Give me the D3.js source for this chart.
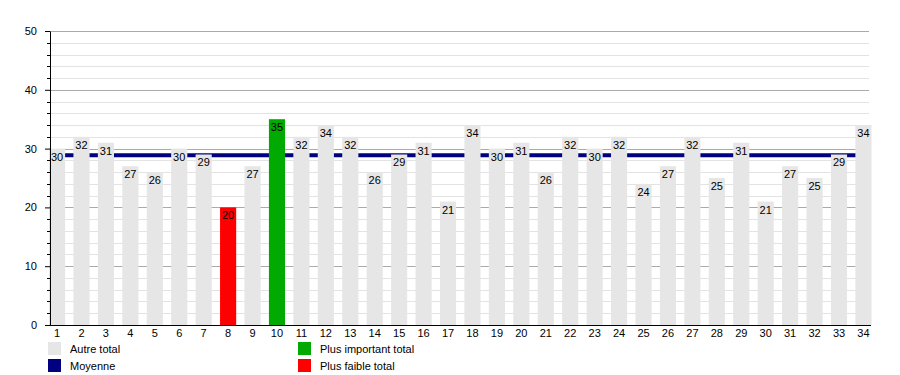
<!DOCTYPE html>
<html>
<head>
<meta charset="utf-8">
<script src="https://cdn.jsdelivr.net/npm/d3@7"></script>
<style>
  body { margin: 0; background: #fff; }
  text { font-family: "Liberation Sans", Arial, sans-serif; }
</style>
</head>
<body>
<svg width="900" height="375"></svg>
<script>
// data
var categories = d3.range(1, 35)
var totals = [30, 32, 31, 27, 26, 30, 29, 20, 27, 35, 32, 34, 32, 26, 29, 31, 21,
  34, 30, 31, 26, 32, 30, 32, 24, 27, 32, 25, 31, 21, 27, 25, 29, 34]
var yTicks = [0, 10, 20, 30, 40, 50]
var legendLabels = ['Autre total', 'Moyenne', 'Plus important total', 'Plus faible total']

var colors = { other: '#e6e6e6', mean: '#000080', max: '#00aa00', min: '#ff0000' }

var svg = d3.select('svg')
var margin = { top: 31, right: 29, bottom: 50, left: 50 }
var width = 900 - margin.left - margin.right
var height = 375 - margin.top - margin.bottom

var g = svg.append('g')
  .attr('transform', 'translate(' + margin.left + ',' + margin.top + ')')

var x = d3.scaleBand()
  .domain(categories)
  .range([-1, width + 0.5])
  .paddingInner(0.34)
  .paddingOuter(0)

var y = d3.scaleLinear().domain([0, 50]).range([height, 0])

var maxV = d3.max(totals)
var minV = d3.min(totals)
var meanV = d3.mean(totals)

// grid lines
var minor = d3.range(2, 51, 2).filter(function (d) { return d % 10 !== 0 })
g.selectAll('.minor')
  .data(minor)
  .enter().append('line')
  .attr('x1', 0).attr('x2', width - 2)
  .attr('y1', function (d) { return Math.round(y(d)) + 0.5 })
  .attr('y2', function (d) { return Math.round(y(d)) + 0.5 })
  .attr('stroke', '#e3e3e3')

g.selectAll('.major')
  .data(yTicks.slice(1))
  .enter().append('line')
  .attr('x1', 0).attr('x2', width - 2)
  .attr('y1', function (d) { return Math.round(y(d)) + 0.5 })
  .attr('y2', function (d) { return Math.round(y(d)) + 0.5 })
  .attr('stroke', '#aaaaaa')

// mean line (under the bars)
g.append('line')
  .attr('x1', 0).attr('x2', width)
  .attr('y1', y(meanV)).attr('y2', y(meanV))
  .attr('stroke', colors.mean)
  .attr('stroke-width', 4)

// bars
g.selectAll('.bar')
  .data(totals)
  .enter().append('rect')
  .attr('x', function (d, i) { return x(categories[i]) })
  .attr('width', x.bandwidth())
  .attr('y', function (d) { return y(d) })
  .attr('height', function (d) { return height - y(d) })
  .attr('fill', function (d) {
    if (d === maxV) return colors.max
    if (d === minV) return colors.min
    return colors.other
  })

// value labels
g.selectAll('.lbl')
  .data(totals)
  .enter().append('text')
  .attr('x', function (d, i) { return x(categories[i]) + x.bandwidth() / 2 })
  .attr('y', function (d) { return y(d) + 12 })
  .attr('text-anchor', 'middle')
  .attr('font-size', 11)
  .attr('fill', '#000')
  .text(function (d) { return d })

// y axis
var yAxis = g.append('g')
  .call(d3.axisLeft(y).tickValues(yTicks).tickSize(5).tickSizeOuter(0))
yAxis.select('.domain').attr('stroke', '#000')
yAxis.selectAll('text').attr('font-size', 11).attr('fill', '#000').attr('x', -13)
yAxis.selectAll('.tick line').attr('stroke', '#000')

g.selectAll('.ytick-minor')
  .data(minor)
  .enter().append('line')
  .attr('x1', -3).attr('x2', 0)
  .attr('y1', function (d) { return Math.round(y(d)) + 0.5 })
  .attr('y2', function (d) { return Math.round(y(d)) + 0.5 })
  .attr('stroke', '#000')

// x axis
var xAxis = g.append('g')
  .attr('transform', 'translate(0,' + height + ')')
  .call(d3.axisBottom(x).tickSize(0).tickPadding(4))
xAxis.select('.domain').attr('d', 'M0,0.5H' + width).attr('stroke', '#000')
xAxis.selectAll('text').attr('font-size', 11).attr('fill', '#000')

// legend
var legendColors = [colors.other, colors.mean, colors.max, colors.min]
var legend = svg.append('g')
  .selectAll('g')
  .data(legendLabels)
  .enter().append('g')
  .attr('transform', function (d, i) {
    return 'translate(' + (i < 2 ? 48 : 298) + ',' + (342 + (i % 2) * 17) + ')'
  })
legend.append('rect')
  .attr('width', 13).attr('height', 13)
  .attr('fill', function (d, i) { return legendColors[i] })
legend.append('text')
  .attr('x', 22).attr('y', 10.5)
  .attr('font-size', 11)
  .attr('fill', '#000')
  .text(function (d) { return d })
</script>
</body>
</html>
